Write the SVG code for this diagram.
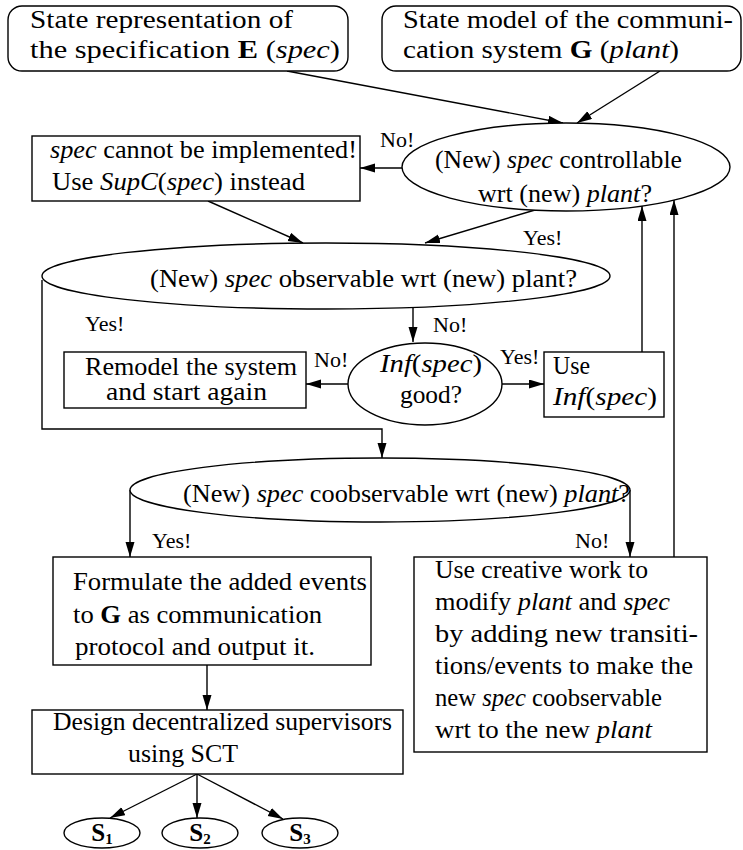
<svg xmlns="http://www.w3.org/2000/svg" width="743" height="850" viewBox="0 0 743 850">
  <style>
    .t { font-family: "Liberation Serif", "Times New Roman", serif; font-size: 25px; fill: #000; }
    .l { font-family: "Liberation Serif", "Times New Roman", serif; font-size: 22px; fill: #000; }
    .i { font-style: italic; }
    .b { font-weight: bold; }
    .n { fill: #fff; stroke: #000; stroke-width: 1.4; }
    .c { fill: none; stroke: #000; stroke-width: 1.4; marker-end: url(#ah); }
  </style>
  <defs>
    <marker id="ah" markerUnits="userSpaceOnUse" markerWidth="16" markerHeight="10" refX="15" refY="4.5" orient="auto">
      <path d="M0,0 L15,4.5 L0,9 z" fill="#000"/>
    </marker>
  </defs>

  <!-- connectors -->
  <g id="connectors">
    <line class="c" x1="287" y1="71" x2="563" y2="123"/>
    <line class="c" x1="660" y1="71" x2="577" y2="123"/>
    <line class="c" x1="402" y1="168" x2="360" y2="168"/>
    <line class="c" x1="208" y1="201" x2="303" y2="243"/>
    <line class="c" x1="535" y1="210" x2="425" y2="243"/>
    <polyline class="c" points="42,280 42,429 382,429 382,458"/>
    <line class="c" x1="413" y1="307" x2="413" y2="342"/>
    <line class="c" x1="348" y1="384" x2="306" y2="384"/>
    <line class="c" x1="502" y1="384" x2="544" y2="384"/>
    <line class="c" x1="642" y1="352" x2="642" y2="206"/>
    <line class="c" x1="674" y1="557" x2="674" y2="200"/>
    <line class="c" x1="130" y1="490" x2="130" y2="557"/>
    <line class="c" x1="630" y1="490" x2="630" y2="557"/>
    <line class="c" x1="207" y1="665" x2="207" y2="710"/>
    <line class="c" x1="197" y1="774" x2="110" y2="818"/>
    <line class="c" x1="197" y1="774" x2="197" y2="818"/>
    <line class="c" x1="197" y1="774" x2="283" y2="819"/>
    <!-- branch labels -->
    <text class="l" x="380" y="147">No!</text>
    <text class="l" x="523" y="245">Yes!</text>
    <text class="l" x="85" y="331">Yes!</text>
    <text class="l" x="433" y="332">No!</text>
    <text class="l" x="314" y="367">No!</text>
    <text class="l" x="500" y="364">Yes!</text>
    <text class="l" x="152" y="548">Yes!</text>
    <text class="l" x="575" y="548">No!</text>
  </g>

  <!-- inputs -->
  <g id="spec-input">
    <rect class="n" x="8" y="6" width="340" height="65" rx="14"/>
    <text class="t" x="30" y="28" textLength="263" lengthAdjust="spacingAndGlyphs">State representation of</text>
    <text class="t" x="30" y="58" textLength="310" lengthAdjust="spacingAndGlyphs">the specification <tspan class="b">E</tspan> (<tspan class="i">spec</tspan>)</text>
  </g>
  <g id="plant-input">
    <rect class="n" x="382" y="6" width="359" height="65" rx="14"/>
    <text class="t" x="403" y="28" textLength="330" lengthAdjust="spacingAndGlyphs">State model of the communi-</text>
    <text class="t" x="403" y="58" textLength="276" lengthAdjust="spacingAndGlyphs">cation system <tspan class="b">G</tspan> (<tspan class="i">plant</tspan>)</text>
  </g>

  <!-- decisions and actions -->
  <g id="controllable">
    <ellipse class="n" cx="566" cy="167" rx="164" ry="44"/>
    <text class="t" x="435" y="168" textLength="247" lengthAdjust="spacingAndGlyphs">(New) <tspan class="i">spec</tspan> controllable</text>
    <text class="t" x="478" y="202" textLength="174" lengthAdjust="spacingAndGlyphs">wrt (new) <tspan class="i">plant</tspan>?</text>
  </g>
  <g id="supc">
    <rect class="n" x="32" y="136" width="328" height="65"/>
    <text class="t" x="50" y="158" textLength="307" lengthAdjust="spacingAndGlyphs"><tspan class="i">spec</tspan> cannot be implemented!</text>
    <text class="t" x="52" y="190" textLength="253" lengthAdjust="spacingAndGlyphs">Use <tspan class="i">SupC</tspan>(<tspan class="i">spec</tspan>) instead</text>
  </g>
  <g id="observable">
    <ellipse class="n" cx="326" cy="276" rx="284" ry="33"/>
    <text class="t" x="150" y="287" textLength="427" lengthAdjust="spacingAndGlyphs">(New) <tspan class="i">spec</tspan> observable wrt (new) plant?</text>
  </g>
  <g id="inf-good">
    <ellipse class="n" cx="425" cy="384" rx="77" ry="41"/>
    <text class="t" x="380" y="372" textLength="102" lengthAdjust="spacingAndGlyphs"><tspan class="i">Inf</tspan>(<tspan class="i">spec</tspan>)</text>
    <text class="t" x="400" y="403" textLength="62" lengthAdjust="spacingAndGlyphs">good?</text>
  </g>
  <g id="remodel">
    <rect class="n" x="64" y="352" width="242" height="56"/>
    <text class="t" x="85" y="375" textLength="212" lengthAdjust="spacingAndGlyphs">Remodel the system</text>
    <text class="t" x="106" y="400" textLength="161" lengthAdjust="spacingAndGlyphs">and start again</text>
  </g>
  <g id="use-inf">
    <rect class="n" x="544" y="352" width="120" height="65"/>
    <text class="t" x="553" y="374" textLength="37" lengthAdjust="spacingAndGlyphs">Use</text>
    <text class="t" x="553" y="405" textLength="104" lengthAdjust="spacingAndGlyphs"><tspan class="i">Inf</tspan>(<tspan class="i">spec</tspan>)</text>
  </g>
  <g id="coobservable">
    <ellipse class="n" cx="380" cy="490" rx="250" ry="32"/>
    <text class="t" x="183" y="502" textLength="447" lengthAdjust="spacingAndGlyphs">(New) <tspan class="i">spec</tspan> coobservable wrt (new) <tspan class="i">plant</tspan>?</text>
  </g>
  <g id="formulate">
    <rect class="n" x="53" y="557" width="318" height="108"/>
    <text class="t" x="73" y="590" textLength="294" lengthAdjust="spacingAndGlyphs">Formulate the added events</text>
    <text class="t" x="73" y="623" textLength="249" lengthAdjust="spacingAndGlyphs">to <tspan class="b">G</tspan> as communication</text>
    <text class="t" x="75" y="655" textLength="240" lengthAdjust="spacingAndGlyphs">protocol and output it.</text>
  </g>
  <g id="creative">
    <rect class="n" x="414" y="557" width="293" height="195"/>
    <text class="t" x="435" y="578" textLength="213" lengthAdjust="spacingAndGlyphs">Use creative work to</text>
    <text class="t" x="435" y="610" textLength="235" lengthAdjust="spacingAndGlyphs">modify <tspan class="i">plant</tspan> and <tspan class="i">spec</tspan></text>
    <text class="t" x="435" y="642" textLength="263" lengthAdjust="spacingAndGlyphs">by adding new transiti-</text>
    <text class="t" x="435" y="674" textLength="258" lengthAdjust="spacingAndGlyphs">tions/events to make the</text>
    <text class="t" x="435" y="706" textLength="227" lengthAdjust="spacingAndGlyphs">new <tspan class="i">spec</tspan> coobservable</text>
    <text class="t" x="435" y="738" textLength="217" lengthAdjust="spacingAndGlyphs">wrt to the new <tspan class="i">plant</tspan></text>
  </g>
  <g id="design">
    <rect class="n" x="32" y="710" width="371" height="64"/>
    <text class="t" x="53" y="730" textLength="339" lengthAdjust="spacingAndGlyphs">Design decentralized supervisors</text>
    <text class="t" x="128" y="762" textLength="110" lengthAdjust="spacingAndGlyphs">using SCT</text>
  </g>

  <!-- supervisors -->
  <g id="s1">
    <ellipse class="n" cx="102" cy="833" rx="38" ry="15"/>
    <text class="t b" x="102" y="841" text-anchor="middle">S<tspan font-size="15" dy="3">1</tspan></text>
  </g>
  <g id="s2">
    <ellipse class="n" cx="200" cy="833" rx="38" ry="15"/>
    <text class="t b" x="200" y="841" text-anchor="middle">S<tspan font-size="15" dy="3">2</tspan></text>
  </g>
  <g id="s3">
    <ellipse class="n" cx="300" cy="833" rx="38" ry="15"/>
    <text class="t b" x="300" y="841" text-anchor="middle">S<tspan font-size="15" dy="3">3</tspan></text>
  </g>
</svg>
